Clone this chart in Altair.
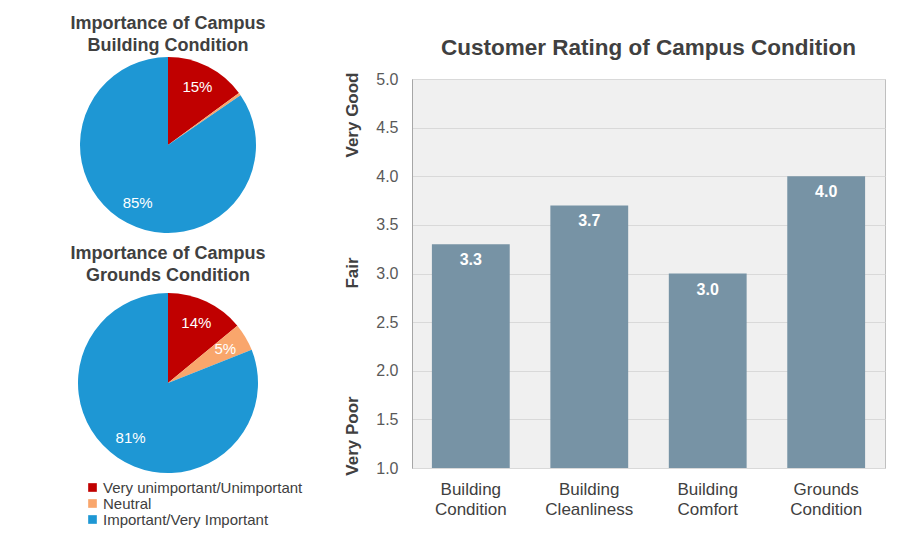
import altair as alt
import pandas as pd

# ---- data ----
pie_categories = ["Very unimportant/Unimportant", "Neutral", "Important/Very Important"]
pie_colors = ["#c00000", "#f9a66c", "#1e97d4"]
building_importance = [15, 0.5, 85]
grounds_importance = [14, 5, 81]
building_title = ["Importance of Campus", "Building Condition"]
grounds_title = ["Importance of Campus", "Grounds Condition"]

bar_categories = ["Building Condition", "Building Cleanliness", "Building Comfort", "Grounds Condition"]
bar_values = [3.3, 3.7, 3.0, 4.0]

side_labels = ["Very Good", "Fair", "Very Poor"]
bar_title = "Customer Rating of Campus Condition"

FONT = "Liberation Sans"
TXT = "#404040"


def pie_df(vals):
    return pd.DataFrame({
        "category": pie_categories,
        "value": vals,
        "order": list(range(len(vals))),
    })


color_scale = alt.Scale(domain=pie_categories, range=pie_colors)
legend = alt.Legend(
    title=None, orient="none", legendX=72, legendY=401, direction="vertical",
    symbolType="square", symbolSize=75, symbolStrokeWidth=0, labelOffset=3,
    labelFont=FONT, labelFontSize=15, labelColor=TXT, rowPadding=0, labelLimit=300,
)


def pie_layers(vals, title, cx, cy, radius, title_y):
    base = alt.Chart(pie_df(vals)).transform_calculate(
        label="datum.value >= 1 ? format(datum.value, '.0f') + '%' : ''"
    ).encode(
        theta=alt.Theta("value:Q", stack=True),
        order=alt.Order("order:Q"),
    )
    arcs = base.mark_arc(radius=radius, strokeWidth=0).encode(
        x=alt.value(cx), y=alt.value(cy),
        color=alt.Color("category:N", scale=color_scale, legend=legend, sort=pie_categories),
    )
    labels = base.mark_text(radius=radius * 0.74, font=FONT, fontSize=15, color="white").encode(
        x=alt.value(cx), y=alt.value(cy), text="label:N"
    )
    ttl = alt.Chart(pd.DataFrame({"t": [0]})).mark_text(
        text=title, font=FONT, fontSize=18, fontWeight="bold", color=TXT,
        lineHeight=22, baseline="middle", align="center",
    ).encode(x=alt.value(cx), y=alt.value(title_y))
    return [arcs, labels, ttl]


left = alt.layer(
    *pie_layers(building_importance, building_title, 155, 66, 88, -55),
    *pie_layers(grounds_importance, grounds_title, 155, 304, 90, 175),
).resolve_scale(theta="independent").properties(
    width=310, height=389,
    view=alt.ViewBackground(fill=None, stroke=None),
)

# ---- bar chart ----
bar_df = pd.DataFrame({"category": bar_categories, "value": bar_values})
side_df = pd.DataFrame({"label": side_labels, "ypix": [36, 194, 357]})
title_df = pd.DataFrame({"t": [bar_title]})

bar_base = alt.Chart(bar_df).encode(
    x=alt.X("category:N", sort=bar_categories, title=None,
            scale=alt.Scale(paddingInner=0.343, paddingOuter=0.168),
            axis=alt.Axis(labelAngle=0, labelExpr="split(datum.label, ' ')", labelFont=FONT,
                          labelFontSize=17, labelColor=TXT, labelPadding=13, ticks=False,
                          domain=False, labelLineHeight=20)),
    y=alt.Y("value:Q", title=None,
            scale=alt.Scale(domain=[1, 5], nice=False, zero=False),
            axis=alt.Axis(values=[1, 1.5, 2, 2.5, 3, 3.5, 4, 4.5, 5], format=".1f", labelFont=FONT,
                          labelFontSize=16, labelColor="#595959", ticks=False, labelPadding=14,
                          domain=True, domainColor="#a6a6a6", gridColor="#d9d9d9", grid=True)),
)
bars = bar_base.mark_bar(color="#7793a5").encode(y2=alt.datum(1))
bar_text = bar_base.mark_text(font=FONT, fontSize=16, fontWeight="bold", color="white",
                              baseline="top", dy=8).encode(text=alt.Text("value:Q", format=".1f"))
side = alt.Chart(side_df).mark_text(font=FONT, fontSize=17, fontWeight="bold", color=TXT,
                                    angle=270, baseline="middle", align="center").encode(
    x=alt.value(-59), y=alt.Y("ypix:Q", scale=None), text="label:N"
)
title_mark = alt.Chart(title_df).mark_text(font=FONT, fontSize=22.5, fontWeight="bold", color=TXT,
                                           baseline="middle", align="center").encode(
    x=alt.value(236.5), y=alt.value(-31), text="t:N"
)

bar_chart = alt.layer(bars, bar_text, side, title_mark).properties(
    width=473, height=389,
    view=alt.ViewBackground(fill="#f0f0f0", stroke="#bfbfbf"),
)

chart = alt.hconcat(left, bar_chart, spacing=20).configure(background="white").properties(
    padding={"left": 5, "top": 7, "right": 5, "bottom": 5}
)

chart.save("out.html", embed_options={"renderer": "svg", "actions": False})
